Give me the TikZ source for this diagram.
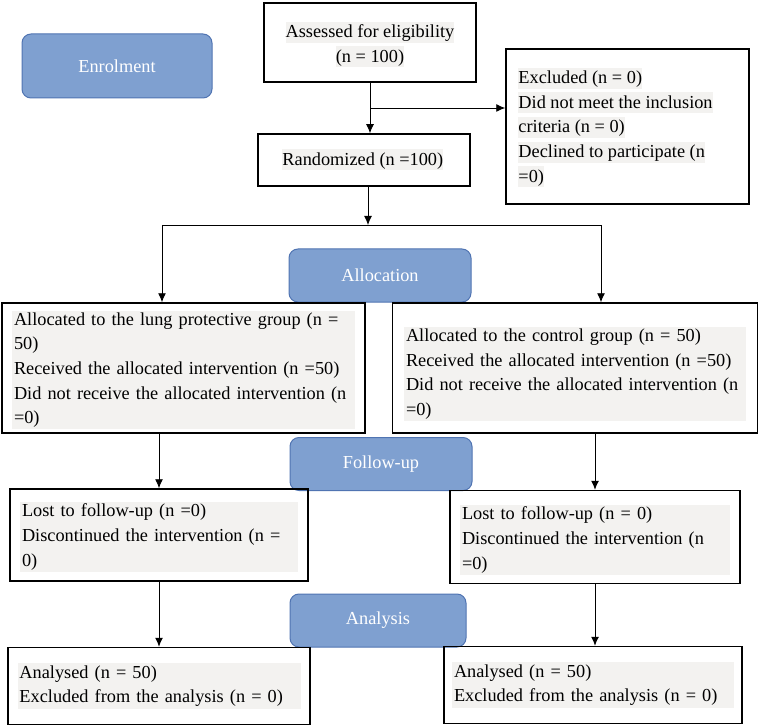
\documentclass[tikz,border=0pt]{standalone}
\usepackage{fontspec}
\setmainfont{Liberation Serif}
\usetikzlibrary{arrows.meta}

\definecolor{stagefill}{RGB}{127,160,208}
\definecolor{stageline}{RGB}{80,116,178}
\definecolor{shadegray}{RGB}{243,242,240}
% light grey band behind one line of text
\newcommand{\hl}[1]{{\setlength{\fboxsep}{0pt}\colorbox{shadegray}{\rule[-5pt]{0pt}{21pt}#1}}}

\begin{document}
\begin{tikzpicture}[x=1pt, y=-1pt, font=\fontsize{18.3}{24.6}\selectfont,
  box/.style={draw, line width=1.5pt, inner sep=0pt},
  stage/.style={draw=stageline, fill=stagefill, line width=1pt, rounded corners=9pt,
    text=white, minimum width=182pt, minimum height=53pt},
  shade/.style={fill=shadegray, inner sep=2pt, align=left},
  arr/.style={-{Latex[length=9pt,width=8pt]}, line width=0.9pt}]
  \useasboundingbox (0,0) rectangle (760,727);

  % stage labels
  \node[stage, minimum width=190pt, minimum height=64pt] (enrol) at (117,66) {Enrolment};
  \node[stage] (alloc) at (380,275.5) {Allocation};
  \node[stage] (follow) at (381,464) {Follow-up};
  \node[stage, minimum width=176pt] (analysis) at (378,620.5) {Analysis};

  % enrolment
  \node[box, minimum width=212pt, minimum height=79pt] (assess) at (370,42.5) {};
  \node[align=center, inner sep=0pt] at ([yshift=-2pt]assess) {\hl{Assessed for eligibility}\\\hl{(n = 100)}};
  \node[box, minimum width=212pt, minimum height=52pt] (rand) at (364,160) {};
  \node[anchor=west, inner sep=0pt] at ([xshift=25pt]rand.west) {\hl{Randomized (n =100)}};
  \node[box, minimum width=243pt, minimum height=155pt] (excl) at (627.5,126.5) {};
  \node[anchor=west, align=left, inner sep=0pt] at ([xshift=13pt,yshift=-1pt]excl.west)
    {\hl{Excluded (n = 0)}\\\hl{Did not meet the inclusion}\\\hl{criteria (n = 0)}\\
     \hl{Declined to participate (n}\\\hl{=0)}};

  % allocation
  \node[box, minimum width=363pt, minimum height=130pt] (la) at (183.5,368) {};
  \node[shade, text width=339pt] at ([yshift=-2pt]la)
    {Allocated to the lung protective group (n =\\50)\\Received the allocated intervention (n =50)\\
     Did not receive the allocated intervention (n\\=0)};
  \node[box, minimum width=365pt, minimum height=130pt] (ra) at (575,368) {};
  \node[shade, text width=338pt] at ([yshift=-6pt]ra)
    {Allocated to the control group (n = 50)\\Received the allocated intervention (n =50)\\
     Did not receive the allocated intervention (n\\=0)};

  % follow-up
  \node[box, minimum width=298pt, minimum height=92pt] (lf) at (159,535) {};
  \node[shade, text width=274pt] at ([yshift=-2pt]lf)
    {Lost to follow-up (n =0)\\Discontinued the intervention (n =\\0)};
  \node[box, minimum width=290pt, minimum height=93pt] (rf) at (595,537) {};
  \node[shade, text width=266pt] at ([yshift=-3pt]rf)
    {Lost to follow-up (n = 0)\\Discontinued the intervention (n\\=0)};

  % analysis
  \node[box, minimum width=302pt, minimum height=77pt] (ln) at (159,686) {};
  \node[shade, text width=279pt] at (ln)
    {Analysed (n = 50)\\Excluded from the analysis (n = 0)};
  \node[box, minimum width=298pt, minimum height=77pt] (rn) at (593,685) {};
  \node[shade, text width=278pt] at (rn)
    {Analysed (n = 50)\\Excluded from the analysis (n = 0)};

  % connectors
  \coordinate (br) at (370,108);
  \coordinate (split) at (368,225);
  \coordinate (sl) at (162,225);
  \coordinate (sr) at (601,225);
  \draw[arr] (assess.south) -- (assess.south |- rand.north);
  \draw[arr] (br) -- (br -| excl.west);
  \draw[arr] (split |- rand.south) -- (split);
  \draw[arr] (sl) -- (sr) -- (sr |- ra.north);
  \draw[arr] (sl) -- (sl |- la.north);
  \draw[arr] (la.south -| lf.north) -- (lf.north);
  \draw[arr] (ra.south -| rf.north) -- (rf.north);
  \draw[arr] (lf.south) -- (ln.north);
  \draw[arr] (rf.south) -- (rf.south |- rn.north);
\end{tikzpicture}
\end{document}
